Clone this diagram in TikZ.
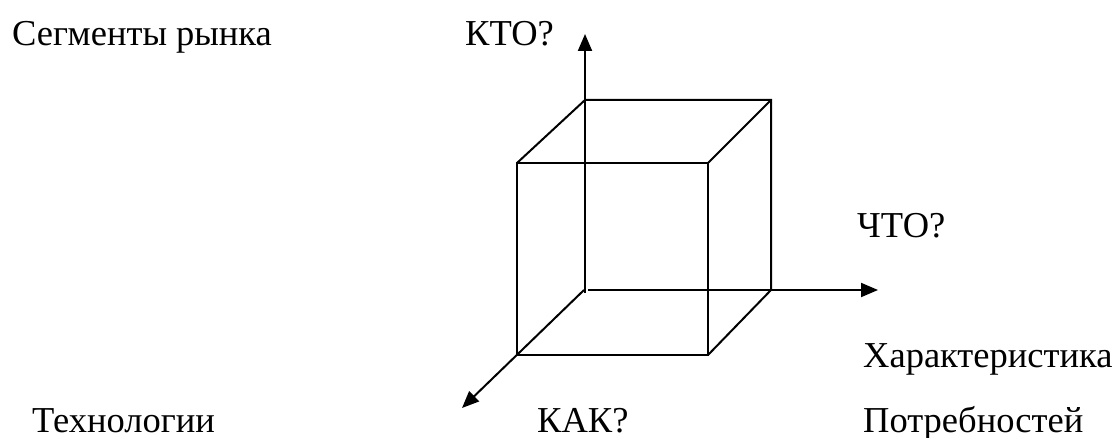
\documentclass[tikz,border=0pt]{standalone}
\usepackage{fontspec}
\setmainfont{Liberation Serif}
\usetikzlibrary{arrows.meta}
\begin{document}
\begin{tikzpicture}[x=1pt,y=-1pt,
  edge/.style={line width=2pt, line cap=butt},
  axis/.style={edge, -{Triangle[length=17pt,width=14pt]}},
  lbl/.style={inner sep=0pt, anchor=base west, font=\fontsize{36.5}{44}\selectfont}]
\useasboundingbox (0,0) rectangle (1118,438);
% corners
\coordinate (b1) at (585,100);
\coordinate (b2) at (771,100);
\coordinate (b3) at (771,290);
\coordinate (b4) at (585,290);
\coordinate (f1) at (517,163);
\coordinate (f2) at (708,163);
\coordinate (f3) at (708,355);
\coordinate (f4) at (517,355);
% axis ends
\coordinate (ov) at (585,293);
\coordinate (oh) at (588,290);
\coordinate (od) at (584,290);
\coordinate (ty) at (585,34);
\coordinate (tx) at (878,290);
\coordinate (tz) at (462,408);
% cube
\draw[edge] (f1) rectangle (f3);
\draw[edge] (f1) -- (b1) -- (b2) -- (b3) -- (f3);
\draw[edge] (b2) -- (f2);
% axes
\draw[axis] (ov) -- (ty);
\draw[axis] (oh) -- (tx);
\draw[axis] (od) -- (tz);
% labels
\node[lbl] (seg) at (12,46) {Сегменты рынка};
\node[lbl] (kto) at (465,46) {КТО?};
\node[lbl] (chto) at (857,237) {ЧТО?};
\node[lbl] (har) at (863,367) {Характеристика};
\node[lbl] (potr) at (863,432) {Потребностей};
\node[lbl] (tech) at (32,432) {Технологии};
\node[lbl] (kak) at (537,432) {КАК?};
\end{tikzpicture}
\end{document}
